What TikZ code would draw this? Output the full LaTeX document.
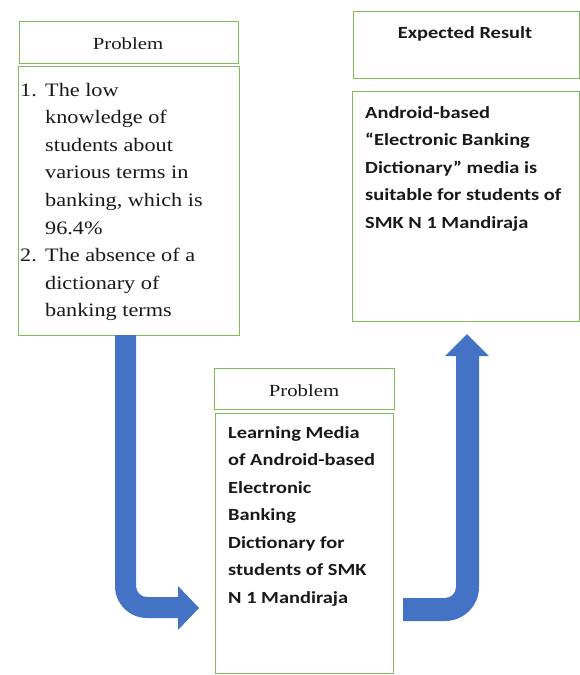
\documentclass[tikz,border=0pt]{standalone}
\usepackage{fontspec}
\newfontfamily\bodyserif[FakeStretch=1.17]{Liberation Serif}
\newfontfamily\headserif[FakeStretch=1.22]{Liberation Serif}
\newfontfamily\calib[FakeStretch=1.2]{Carlito}
\definecolor{boxgreen}{RGB}{128,188,88}
\definecolor{arrowblue}{RGB}{68,114,196}
\definecolor{txt}{RGB}{25,25,25}
\tikzset{
  box/.style={draw=boxgreen, line width=1.3pt, inner sep=0pt, anchor=north west},
  txtnode/.style={inner sep=0pt, anchor=base west, text=txt},
  headtxt/.style={inner sep=0pt, anchor=base, text=txt},
  blockarrow/.style={fill=arrowblue, draw=none}
}
\begin{document}
\begin{tikzpicture}[x=1pt,y=-1pt]
\useasboundingbox (0,0) rectangle (580,675);
% boxes
\node[box, minimum width=219pt, minimum height=42pt] (p1h) at (19,21) {};
\node[box, minimum width=221pt, minimum height=269pt] (p1b) at (18,66) {};
\node[box, minimum width=226pt, minimum height=67pt] (erh) at (353,11) {};
\node[box, minimum width=227pt, minimum height=230pt] (erb) at (352,91) {};
\node[box, minimum width=180pt, minimum height=41pt] (p2h) at (214,368) {};
\node[box, minimum width=178pt, minimum height=260pt] (p2b) at (215,413) {};
% header texts
\node[headtxt] (t1) at (128,49) {\headserif\fontsize{17}{17}\selectfont Problem};
\node[headtxt] (t2) at (465,38) {\calib\bfseries\fontsize{17}{17}\selectfont Expected Result};
\node[headtxt] (t3) at (304,396) {\headserif\fontsize{17}{17}\selectfont Problem};
% body texts
\node[txtnode] (b1) at (20,96) {\parbox[t]{215pt}{\bodyserif\fontsize{19}{27.6}\selectfont\raggedright
\makebox[25pt][l]{1.}The low\\
\hspace*{25pt}knowledge of\\
\hspace*{25pt}students about\\
\hspace*{25pt}various terms in\\
\hspace*{25pt}banking, which is\\
\hspace*{25pt}96.4\%\\
\makebox[25pt][l]{2.}The absence of a\\
\hspace*{25pt}dictionary of\\
\hspace*{25pt}banking terms}};
\node[txtnode] (b2) at (365,118) {\parbox[t]{212pt}{\calib\bfseries\fontsize{17}{27.5}\selectfont\raggedright
Android-based\\
“Electronic Banking\\
Dictionary” media is\\
suitable for students of\\
SMK N 1 Mandiraja}};
\node[txtnode] (b3) at (228,438) {\parbox[t]{165pt}{\calib\bfseries\fontsize{17}{27.5}\selectfont\raggedright
Learning Media\\
of Android-based\\
Electronic\\
Banking\\
Dictionary for\\
students of SMK\\
N 1 Mandiraja}};
% block arrows
\fill[blockarrow] (115,335) -- (115,586) .. controls (115,603.7) and (129.3,618) .. (147,618)
  -- (178,618) -- (178,630) -- (199,608) -- (178,586) -- (178,597) -- (147,597)
  .. controls (140.9,597) and (136,592.1) .. (136,586) -- (136,335) -- cycle;
\fill[blockarrow] (403,598) -- (445,598) .. controls (451.1,598) and (456,592.9) .. (456,587)
  -- (456,356) -- (445,356) -- (467,334) -- (489,356) -- (479,356) -- (479,587)
  .. controls (479,605.8) and (463.8,621) .. (445,621) -- (403,621) -- cycle;
\end{tikzpicture}
\end{document}
